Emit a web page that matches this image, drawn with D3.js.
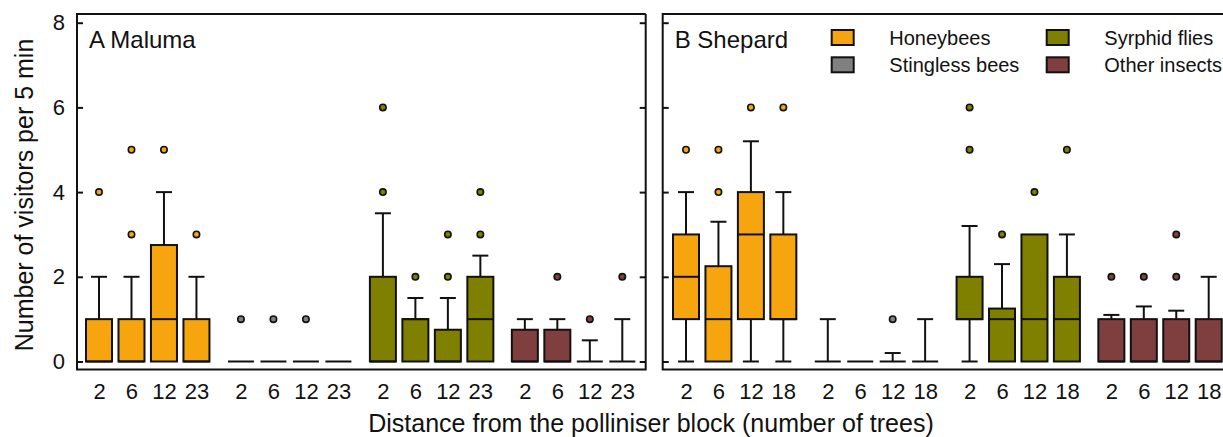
<!DOCTYPE html>
<html>
<head>
<meta charset="utf-8">
<script src="https://cdn.jsdelivr.net/npm/d3@7"></script>
<style>
  body { margin: 0; background: #fff; }
  svg text { font-family: "Liberation Sans", Arial, sans-serif; fill: #111; }
</style>
</head>
<body>
<svg id="chart" width="1223" height="437"></svg>
<script>
// Insect groups and their fills
var groups = ["Honeybees", "Stingless bees", "Syrphid flies", "Other insects"];
var groupColors = ["#F6A50E", "#808080", "#808000", "#803F3F"];

// Distance categories (number of trees) for each orchard
var malumaDist = ["2", "6", "12", "23"];
var shepardDist = ["2", "6", "12", "18"];

var yTicks = [0, 2, 4, 6, 8];

// Box summaries: [lower whisker, q1, median, q3, upper whisker]
var malumaHoneybees = [[0, 0, 0, 1, 2], [0, 0, 0, 1, 2], [0, 0, 1, 2.75, 4], [0, 0, 0, 1, 2]];
var malumaStingless = [[0, 0, 0, 0, 0], [0, 0, 0, 0, 0], [0, 0, 0, 0, 0], [0, 0, 0, 0, 0]];
var malumaSyrphid = [[0, 0, 0, 2, 3.5], [0, 0, 1, 1, 1.5], [0, 0, 0, 0.75, 1.5], [0, 0, 1, 2, 2.5]];
var malumaOther = [[0, 0, 0, 0.75, 1], [0, 0, 0, 0.75, 1], [0, 0, 0, 0, 0.5], [0, 0, 0, 0, 1]];

var shepardHoneybees = [[0, 1, 2, 3, 4], [0, 0, 1, 2.25, 3.3], [0, 1, 3, 4, 5.2], [0, 1, 1, 3, 4]];
var shepardStingless = [[0, 0, 0, 0, 1], [0, 0, 0, 0, 0], [0, 0, 0, 0, 0.2], [0, 0, 0, 0, 1]];
var shepardSyrphid = [[0, 1, 1, 2, 3.2], [0, 0, 1, 1.25, 2.3], [0, 0, 1, 3, 3], [0, 0, 1, 2, 3]];
var shepardOther = [[0, 0, 0, 1, 1.1], [0, 0, 0, 1, 1.3], [0, 0, 0, 1, 1.2], [0, 0, 0, 1, 2]];

// Outliers for each box
var malumaHoneybeesOut = [[4], [3, 5], [5], [3]];
var malumaStinglessOut = [[1], [1], [1], []];
var malumaSyrphidOut = [[4, 6], [2], [2, 3], [3, 4]];
var malumaOtherOut = [[], [2], [1], [2]];

var shepardHoneybeesOut = [[5], [4, 5], [6], [6]];
var shepardStinglessOut = [[], [], [1], []];
var shepardSyrphidOut = [[5, 6], [3], [4], [5]];
var shepardOtherOut = [[2], [2], [2, 3], []];

var panels = [
  { label: "A Maluma", left: 77, right: 645.7, first: 99, last: 622.3, dist: malumaDist,
    boxes: [malumaHoneybees, malumaStingless, malumaSyrphid, malumaOther],
    outs: [malumaHoneybeesOut, malumaStinglessOut, malumaSyrphidOut, malumaOtherOut] },
  { label: "B Shepard", left: 662.7, right: 1240, first: 686, last: 1208.7, dist: shepardDist,
    boxes: [shepardHoneybees, shepardStingless, shepardSyrphid, shepardOther],
    outs: [shepardHoneybeesOut, shepardStinglessOut, shepardSyrphidOut, shepardOtherOut] }
];

var svg = d3.select("#chart");
var frameTop = 14, frameBottom = 369.5;
var groupStep = 4.37;   // slots between the first boxes of two groups
var boxW = 26, capW = 16;

var y = d3.scaleLinear().domain([0, 8]).range([361.5, 22.7]);

panels.forEach(function(p, pi) {
  var x = d3.scaleLinear().domain([0, 3 * groupStep + 3]).range([p.first, p.last]);
  var g = svg.append("g");

  // y axis, ticks pointing into the panel
  var yAxis = d3.axisLeft(y).tickValues(yTicks).tickSize(-6)
    .tickPadding(12).tickFormat(pi === 0 ? d3.format("d") : "");
  var ya = g.append("g").attr("transform", "translate(" + p.left + ",0)").call(yAxis);
  ya.select(".domain").remove();
  ya.selectAll("line").attr("stroke", "#111").attr("stroke-width", 2);
  ya.selectAll("text").style("font-size", "22px");

  if (pi === 0) {
    var yr = g.append("g").attr("transform", "translate(" + p.right + ",0)")
      .call(d3.axisRight(y).tickValues(yTicks).tickSize(-6).tickFormat(""));
    yr.select(".domain").remove();
    yr.selectAll("line").attr("stroke", "#111").attr("stroke-width", 2);
  }

  // x axis with distance labels
  var slots = [], labels = {};
  groups.forEach(function(gr, gi) {
    p.dist.forEach(function(d, di) {
      var s = gi * groupStep + di;
      slots.push(s);
      labels[s] = d;
    });
  });
  var xa = g.append("g").attr("transform", "translate(0," + frameBottom + ")")
    .call(d3.axisBottom(x).tickValues(slots).tickSize(0).tickPadding(14)
      .tickFormat(function(s) { return labels[s]; }));
  xa.select(".domain").remove();
  xa.selectAll("text").style("font-size", "22px");

  // frame
  g.append("path")
    .attr("d", "M" + p.right + "," + frameTop + "H" + p.left + "V" + frameBottom + "H" + p.right +
      (pi === 0 ? "V" + frameTop : ""))
    .attr("fill", "none").attr("stroke", "#111").attr("stroke-width", 2);

  // boxes
  groups.forEach(function(gr, gi) {
    p.boxes[gi].forEach(function(b, di) {
      var cx = x(gi * groupStep + di);
      var bg = g.append("g");
      var lineAttr = function(sel) { return sel.attr("stroke", "#111").attr("stroke-width", 2); };
      if (b[4] > b[3]) {
        lineAttr(bg.append("line").attr("x1", cx).attr("x2", cx).attr("y1", y(b[3])).attr("y2", y(b[4])));
        lineAttr(bg.append("line").attr("x1", cx - capW / 2).attr("x2", cx + capW / 2).attr("y1", y(b[4])).attr("y2", y(b[4])));
      }
      if (b[1] > b[0]) {
        lineAttr(bg.append("line").attr("x1", cx).attr("x2", cx).attr("y1", y(b[0])).attr("y2", y(b[1])));
        lineAttr(bg.append("line").attr("x1", cx - capW / 2).attr("x2", cx + capW / 2).attr("y1", y(b[0])).attr("y2", y(b[0])));
      }
      bg.append("rect")
        .attr("x", cx - boxW / 2).attr("width", boxW)
        .attr("y", y(b[3])).attr("height", y(b[1]) - y(b[3]))
        .attr("fill", groupColors[gi]).attr("stroke", "#111").attr("stroke-width", 2);
      lineAttr(bg.append("line").attr("x1", cx - boxW / 2).attr("x2", cx + boxW / 2).attr("y1", y(b[2])).attr("y2", y(b[2])));

      bg.selectAll("circle").data(p.outs[gi][di]).enter().append("circle")
        .attr("cx", cx).attr("cy", function(v) { return y(v); }).attr("r", 3.2)
        .attr("fill", groupColors[gi]).attr("stroke", "#111").attr("stroke-width", 1.6);
    });
  });

  g.append("text").attr("x", p.left + 12).attr("y", 48)
    .style("font-size", "24px").text(p.label);
});

// legend inside panel B: Honeybees / Stingless in first column, Syrphid / Other in second
var legendX = [831.7, 1046.7], legendY = [37.5, 64.8];
groups.forEach(function(gr, i) {
  var col = i < 2 ? 0 : 1;
  var row = i % 2;
  var lg = svg.append("g").attr("transform", "translate(" + legendX[col] + "," + legendY[row] + ")");
  lg.append("rect").attr("x", 0).attr("y", -7.5).attr("width", 22).attr("height", 15)
    .attr("fill", groupColors[i]).attr("stroke", "#111").attr("stroke-width", 2);
  lg.append("text").attr("x", 57.6).attr("y", 7).style("font-size", "20px").text(gr);
});

// axis titles
svg.append("text")
  .attr("transform", "translate(33,195) rotate(-90)")
  .attr("text-anchor", "middle").style("font-size", "25px")
  .text("Number of visitors per 5 min");

svg.append("text")
  .attr("x", 651).attr("y", 432)
  .attr("text-anchor", "middle").style("font-size", "25px")
  .text("Distance from the polliniser block (number of trees)");
</script>
</body>
</html>
